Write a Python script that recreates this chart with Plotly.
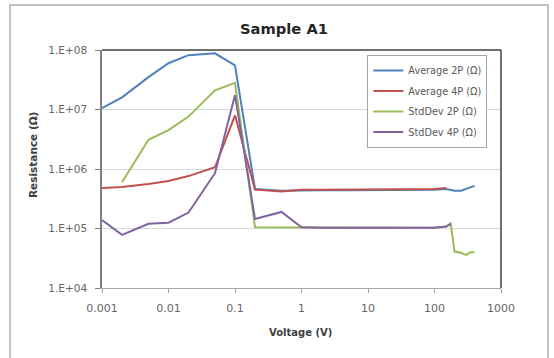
import plotly.graph_objects as go

# ---- data ----
v_avg2p = [0.001, 0.002, 0.005, 0.01, 0.02, 0.05, 0.1, 0.2, 0.5, 1, 2, 5, 10, 20, 50, 100, 150, 200, 250, 300, 350, 400]
r_avg2p = [1.05e7, 1.6e7, 3.5e7, 6.0e7, 8.2e7, 8.8e7, 5.5e7, 4.6e5, 4.3e5, 4.4e5, 4.4e5, 4.4e5, 4.4e5, 4.4e5, 4.4e5, 4.5e5, 4.6e5, 4.3e5, 4.3e5, 4.6e5, 4.9e5, 5.2e5]

v_avg4p = [0.001, 0.002, 0.005, 0.01, 0.02, 0.05, 0.1, 0.2, 0.5, 1, 2, 5, 10, 20, 50, 100, 150]
r_avg4p = [4.8e5, 5.0e5, 5.6e5, 6.3e5, 7.6e5, 1.07e6, 8.0e6, 4.5e5, 4.2e5, 4.5e5, 4.5e5, 4.5e5, 4.5e5, 4.5e5, 4.5e5, 4.6e5, 4.8e5]

v_std2p = [0.002, 0.005, 0.01, 0.02, 0.05, 0.1, 0.2, 0.5, 1, 2, 5, 10, 20, 50, 100, 150, 175, 200, 250, 300, 350, 400]
r_std2p = [6.0e5, 3.1e6, 4.5e6, 7.6e6, 2.1e7, 2.8e7, 1.05e5, 1.05e5, 1.05e5, 1.03e5, 1.03e5, 1.03e5, 1.03e5, 1.03e5, 1.03e5, 1.08e5, 1.22e5, 4.1e4, 3.9e4, 3.6e4, 4.0e4, 4.0e4]

v_std4p = [0.001, 0.002, 0.005, 0.01, 0.02, 0.05, 0.1, 0.2, 0.5, 1, 2, 5, 10, 20, 50, 100, 150, 175]
r_std4p = [1.39e5, 7.8e4, 1.2e5, 1.25e5, 1.85e5, 8.5e5, 1.75e7, 1.45e5, 1.9e5, 1.05e5, 1.03e5, 1.03e5, 1.03e5, 1.03e5, 1.03e5, 1.03e5, 1.08e5, 1.2e5]

series_names = ["Average 2P (Ω)", "Average 4P (Ω)", "StdDev 2P (Ω)", "StdDev 4P (Ω)"]
series_colors = ["#4F81BD", "#C0504D", "#9BBB59", "#8064A2"]

x_tickvals = [0.001, 0.01, 0.1, 1, 10, 100, 1000]
x_ticktext = ["0.001", "0.01", "0.1", "1", "10", "100", "1000"]
y_tickvals = [1e4, 1e5, 1e6, 1e7, 1e8]
y_ticktext = ["1.E+04", "1.E+05", "1.E+06", "1.E+07", "1.E+08"]

FONT = "'DejaVu Sans', sans-serif"

fig = go.Figure()
data = [(v_avg2p, r_avg2p), (v_avg4p, r_avg4p), (v_std2p, r_std2p), (v_std4p, r_std4p)]
for i, ((xv, yv), name, col) in enumerate(zip(data, series_names, series_colors)):
    fig.add_trace(go.Scatter(x=xv, y=yv, mode="lines", name=name,
                             legendgroup=f"g{i}",
                             line=dict(color=col, width=2)))

# plot area: x 102..501 px, y 50..288 px
fig.update_layout(
    width=554, height=358,
    margin=dict(l=102, r=53, t=50, b=70),
    paper_bgcolor="white", plot_bgcolor="white",
    font=dict(family=FONT, size=10.5, color="#666666"),
    showlegend=True,
    legend=dict(x=0.665, y=(288 - 55) / 238, xanchor="left", yanchor="top",
                bgcolor="white", bordercolor="#a6a6a6", borderwidth=1,
                font=dict(size=9.7, color="#595959"),
                tracegroupgap=1.5, traceorder="grouped"),
    xaxis=dict(type="log", range=[-3, 3], tickvals=x_tickvals, ticktext=x_ticktext,
               showgrid=False, zeroline=False,
               showline=True, linecolor="#a6a6a6", linewidth=1,
               ticks="outside", ticklen=4, tickcolor="#a6a6a6",
               ticklabelstandoff=6, tickfont=dict(size=11)),
    yaxis=dict(type="log", range=[4, 8], tickvals=y_tickvals, ticktext=y_ticktext,
               showgrid=True, gridcolor="#d9d9d9", gridwidth=1, zeroline=False,
               showline=True, linecolor="#808080", linewidth=1.5,
               ticks="outside", ticklen=5, tickcolor="#808080",
               ticklabelstandoff=6, tickfont=dict(size=10.5)),
    annotations=[
        dict(text="<b>Sample A1</b>", xref="paper", yref="paper",
             x=(284 - 102) / 399, y=(288 - 28) / 238, xanchor="center", yanchor="middle",
             showarrow=False, font=dict(size=14.7, color="#262626")),
        dict(text="<b>Voltage (V)</b>", xref="paper", yref="paper",
             x=(300 - 102) / 399, y=(288 - 332) / 238, xanchor="center", yanchor="middle",
             showarrow=False, font=dict(size=10, color="#404040")),
        dict(text="<b>Resistance (Ω)</b>", xref="paper", yref="paper", textangle=-90,
             x=(33 - 102) / 399, y=(288 - 155) / 238, xanchor="center", yanchor="middle",
             showarrow=False, font=dict(size=10.5, color="#404040")),
    ],
    shapes=[
        # plot-area top and right border
        dict(type="line", xref="paper", yref="paper", x0=0, x1=1, y0=1, y1=1,
             line=dict(color="#404040", width=1.5)),
        dict(type="line", xref="paper", yref="paper", x0=1, x1=1, y0=0, y1=1,
             line=dict(color="#404040", width=1.5)),
        # outer chart border
        dict(type="rect", xref="paper", yref="paper", x0=-0.2306, x1=1.1178, y0=-0.31, y1=1.189,
             line=dict(color="#b0b0b0", width=1.5)),
    ],
)

fig.write_html("out.html")
